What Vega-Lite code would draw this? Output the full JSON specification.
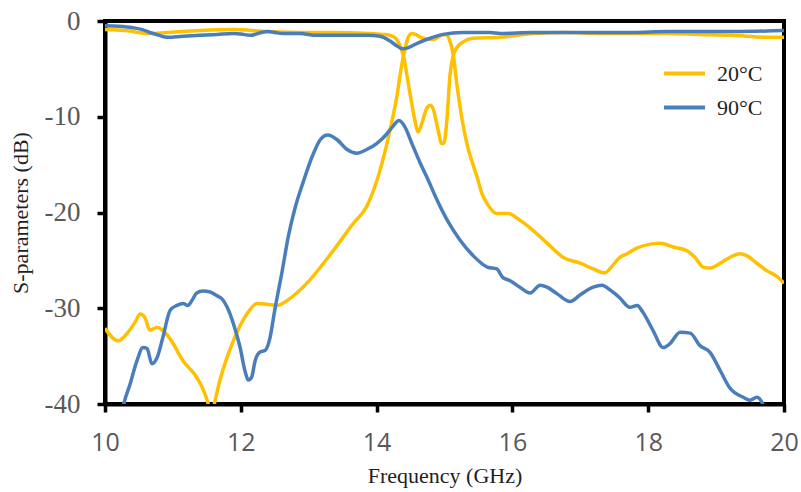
{
  "$schema": "https://vega.github.io/schema/vega-lite/v6.json",
  "width": 679,
  "height": 383,
  "autosize": {"type": "none"},
  "padding": {"left": 105, "top": 21, "right": 17, "bottom": 88},
  "background": "white",
  "config": {
    "view": {"stroke": "black", "strokeWidth": 4},
    "axis": {
      "domainColor": "black",
      "domainWidth": 4,
      "tickColor": "black",
      "tickWidth": 3.5,
      "tickSize": 8,
      "grid": false,
      "labelColor": "#595959",
      "titleColor": "#1f1f1f",
      "titleFont": "Liberation Serif",
      "titleFontSize": 22,
      "titleFontWeight": "normal"
    }
  },
  "datasets": {
    "y20": [
      {"f": 10.0, "db": -0.9, "s": "20°C", "c": "S11"},
      {"f": 10.3, "db": -1.0, "s": "20°C", "c": "S11"},
      {"f": 10.66, "db": -1.3, "s": "20°C", "c": "S11"},
      {"f": 10.91, "db": -1.2, "s": "20°C", "c": "S11"},
      {"f": 11.4, "db": -1.0, "s": "20°C", "c": "S11"},
      {"f": 11.89, "db": -0.9, "s": "20°C", "c": "S11"},
      {"f": 12.39, "db": -1.1, "s": "20°C", "c": "S11"},
      {"f": 12.87, "db": -1.2, "s": "20°C", "c": "S11"},
      {"f": 13.36, "db": -1.2, "s": "20°C", "c": "S11"},
      {"f": 13.86, "db": -1.3, "s": "20°C", "c": "S11"},
      {"f": 14.09, "db": -1.4, "s": "20°C", "c": "S11"},
      {"f": 14.2, "db": -1.5, "s": "20°C", "c": "S11"},
      {"f": 14.28, "db": -1.8, "s": "20°C", "c": "S11"},
      {"f": 14.34, "db": -2.5, "s": "20°C", "c": "S11"},
      {"f": 14.39, "db": -3.5, "s": "20°C", "c": "S11"},
      {"f": 14.49, "db": -7.5, "s": "20°C", "c": "S11"},
      {"f": 14.57, "db": -10.6, "s": "20°C", "c": "S11"},
      {"f": 14.61, "db": -11.6, "s": "20°C", "c": "S11"},
      {"f": 14.67, "db": -10.6, "s": "20°C", "c": "S11"},
      {"f": 14.74, "db": -9.1, "s": "20°C", "c": "S11"},
      {"f": 14.79, "db": -8.8, "s": "20°C", "c": "S11"},
      {"f": 14.83, "db": -9.1, "s": "20°C", "c": "S11"},
      {"f": 14.9, "db": -11.2, "s": "20°C", "c": "S11"},
      {"f": 14.96, "db": -12.8, "s": "20°C", "c": "S11"},
      {"f": 14.99, "db": -12.8, "s": "20°C", "c": "S11"},
      {"f": 15.04, "db": -9.9, "s": "20°C", "c": "S11"},
      {"f": 15.08, "db": -5.7, "s": "20°C", "c": "S11"},
      {"f": 15.13, "db": -3.6, "s": "20°C", "c": "S11"},
      {"f": 15.18, "db": -2.8, "s": "20°C", "c": "S11"},
      {"f": 15.27, "db": -2.2, "s": "20°C", "c": "S11"},
      {"f": 15.42, "db": -1.8, "s": "20°C", "c": "S11"},
      {"f": 15.82, "db": -1.7, "s": "20°C", "c": "S11"},
      {"f": 16.3, "db": -1.3, "s": "20°C", "c": "S11"},
      {"f": 16.8, "db": -1.2, "s": "20°C", "c": "S11"},
      {"f": 17.29, "db": -1.3, "s": "20°C", "c": "S11"},
      {"f": 17.78, "db": -1.3, "s": "20°C", "c": "S11"},
      {"f": 18.28, "db": -1.3, "s": "20°C", "c": "S11"},
      {"f": 18.76, "db": -1.4, "s": "20°C", "c": "S11"},
      {"f": 19.25, "db": -1.5, "s": "20°C", "c": "S11"},
      {"f": 19.75, "db": -1.7, "s": "20°C", "c": "S11"},
      {"f": 20.0, "db": -1.7, "s": "20°C", "c": "S11"},

      {"f": 10.0, "db": -32.1, "s": "20°C", "c": "S21"},
      {"f": 10.19, "db": -33.4, "s": "20°C", "c": "S21"},
      {"f": 10.34, "db": -32.5, "s": "20°C", "c": "S21"},
      {"f": 10.44, "db": -31.5, "s": "20°C", "c": "S21"},
      {"f": 10.52, "db": -30.6, "s": "20°C", "c": "S21"},
      {"f": 10.59, "db": -31.0, "s": "20°C", "c": "S21"},
      {"f": 10.66, "db": -32.3, "s": "20°C", "c": "S21"},
      {"f": 10.77, "db": -32.0, "s": "20°C", "c": "S21"},
      {"f": 10.85, "db": -32.3, "s": "20°C", "c": "S21"},
      {"f": 10.96, "db": -33.2, "s": "20°C", "c": "S21"},
      {"f": 11.15, "db": -35.5, "s": "20°C", "c": "S21"},
      {"f": 11.35, "db": -37.2, "s": "20°C", "c": "S21"},
      {"f": 11.47, "db": -38.9, "s": "20°C", "c": "S21"},
      {"f": 11.53, "db": -40.3, "s": "20°C", "c": "S21"},
      {"f": 11.56, "db": -41.5, "s": "20°C", "c": "S21"},
      {"f": 11.6, "db": -40.3, "s": "20°C", "c": "S21"},
      {"f": 11.69, "db": -37.6, "s": "20°C", "c": "S21"},
      {"f": 11.89, "db": -33.4, "s": "20°C", "c": "S21"},
      {"f": 12.09, "db": -30.6, "s": "20°C", "c": "S21"},
      {"f": 12.24, "db": -29.5, "s": "20°C", "c": "S21"},
      {"f": 12.4, "db": -29.6, "s": "20°C", "c": "S21"},
      {"f": 12.53, "db": -29.7, "s": "20°C", "c": "S21"},
      {"f": 12.72, "db": -29.0, "s": "20°C", "c": "S21"},
      {"f": 12.97, "db": -27.4, "s": "20°C", "c": "S21"},
      {"f": 13.36, "db": -24.0, "s": "20°C", "c": "S21"},
      {"f": 13.65, "db": -21.2, "s": "20°C", "c": "S21"},
      {"f": 13.86, "db": -19.3, "s": "20°C", "c": "S21"},
      {"f": 14.05, "db": -15.6, "s": "20°C", "c": "S21"},
      {"f": 14.2, "db": -11.3, "s": "20°C", "c": "S21"},
      {"f": 14.3, "db": -7.8, "s": "20°C", "c": "S21"},
      {"f": 14.37, "db": -4.6, "s": "20°C", "c": "S21"},
      {"f": 14.42, "db": -2.9, "s": "20°C", "c": "S21"},
      {"f": 14.46, "db": -1.8, "s": "20°C", "c": "S21"},
      {"f": 14.52, "db": -1.3, "s": "20°C", "c": "S21"},
      {"f": 14.57, "db": -1.4, "s": "20°C", "c": "S21"},
      {"f": 14.65, "db": -1.7, "s": "20°C", "c": "S21"},
      {"f": 14.75, "db": -1.9, "s": "20°C", "c": "S21"},
      {"f": 14.85, "db": -1.9, "s": "20°C", "c": "S21"},
      {"f": 14.95, "db": -1.5, "s": "20°C", "c": "S21"},
      {"f": 15.02, "db": -1.4, "s": "20°C", "c": "S21"},
      {"f": 15.07, "db": -1.9, "s": "20°C", "c": "S21"},
      {"f": 15.13, "db": -3.6, "s": "20°C", "c": "S21"},
      {"f": 15.18, "db": -6.5, "s": "20°C", "c": "S21"},
      {"f": 15.23, "db": -9.0, "s": "20°C", "c": "S21"},
      {"f": 15.33, "db": -12.8, "s": "20°C", "c": "S21"},
      {"f": 15.42, "db": -15.0, "s": "20°C", "c": "S21"},
      {"f": 15.48, "db": -16.3, "s": "20°C", "c": "S21"},
      {"f": 15.55, "db": -18.0, "s": "20°C", "c": "S21"},
      {"f": 15.63, "db": -19.1, "s": "20°C", "c": "S21"},
      {"f": 15.77, "db": -20.1, "s": "20°C", "c": "S21"},
      {"f": 15.94, "db": -20.1, "s": "20°C", "c": "S21"},
      {"f": 16.11, "db": -20.8, "s": "20°C", "c": "S21"},
      {"f": 16.26, "db": -21.6, "s": "20°C", "c": "S21"},
      {"f": 16.51, "db": -23.2, "s": "20°C", "c": "S21"},
      {"f": 16.75, "db": -24.7, "s": "20°C", "c": "S21"},
      {"f": 17.0, "db": -25.3, "s": "20°C", "c": "S21"},
      {"f": 17.19, "db": -25.9, "s": "20°C", "c": "S21"},
      {"f": 17.36, "db": -26.3, "s": "20°C", "c": "S21"},
      {"f": 17.48, "db": -25.5, "s": "20°C", "c": "S21"},
      {"f": 17.58, "db": -24.7, "s": "20°C", "c": "S21"},
      {"f": 17.69, "db": -24.3, "s": "20°C", "c": "S21"},
      {"f": 17.84, "db": -23.7, "s": "20°C", "c": "S21"},
      {"f": 18.03, "db": -23.3, "s": "20°C", "c": "S21"},
      {"f": 18.17, "db": -23.2, "s": "20°C", "c": "S21"},
      {"f": 18.37, "db": -23.6, "s": "20°C", "c": "S21"},
      {"f": 18.57, "db": -24.0, "s": "20°C", "c": "S21"},
      {"f": 18.69, "db": -24.7, "s": "20°C", "c": "S21"},
      {"f": 18.81, "db": -25.7, "s": "20°C", "c": "S21"},
      {"f": 18.91, "db": -25.8, "s": "20°C", "c": "S21"},
      {"f": 19.06, "db": -25.3, "s": "20°C", "c": "S21"},
      {"f": 19.2, "db": -24.7, "s": "20°C", "c": "S21"},
      {"f": 19.35, "db": -24.3, "s": "20°C", "c": "S21"},
      {"f": 19.45, "db": -24.5, "s": "20°C", "c": "S21"},
      {"f": 19.6, "db": -25.3, "s": "20°C", "c": "S21"},
      {"f": 19.75, "db": -26.1, "s": "20°C", "c": "S21"},
      {"f": 19.9, "db": -26.7, "s": "20°C", "c": "S21"},
      {"f": 20.0, "db": -27.4, "s": "20°C", "c": "S21"}
    ],
    "b90": [
      {"f": 10.0, "db": -0.5, "s": "90°C", "c": "S11"},
      {"f": 10.2, "db": -0.55, "s": "90°C", "c": "S11"},
      {"f": 10.41, "db": -0.7, "s": "90°C", "c": "S11"},
      {"f": 10.55, "db": -0.9, "s": "90°C", "c": "S11"},
      {"f": 10.66, "db": -1.2, "s": "90°C", "c": "S11"},
      {"f": 10.8, "db": -1.5, "s": "90°C", "c": "S11"},
      {"f": 10.91, "db": -1.7, "s": "90°C", "c": "S11"},
      {"f": 11.15, "db": -1.6, "s": "90°C", "c": "S11"},
      {"f": 11.4, "db": -1.5, "s": "90°C", "c": "S11"},
      {"f": 11.65, "db": -1.4, "s": "90°C", "c": "S11"},
      {"f": 11.89, "db": -1.3, "s": "90°C", "c": "S11"},
      {"f": 12.0, "db": -1.35, "s": "90°C", "c": "S11"},
      {"f": 12.14, "db": -1.5, "s": "90°C", "c": "S11"},
      {"f": 12.3, "db": -1.2, "s": "90°C", "c": "S11"},
      {"f": 12.39, "db": -1.1, "s": "90°C", "c": "S11"},
      {"f": 12.5, "db": -1.2, "s": "90°C", "c": "S11"},
      {"f": 12.62, "db": -1.3, "s": "90°C", "c": "S11"},
      {"f": 12.87, "db": -1.3, "s": "90°C", "c": "S11"},
      {"f": 13.12, "db": -1.5, "s": "90°C", "c": "S11"},
      {"f": 13.36, "db": -1.5, "s": "90°C", "c": "S11"},
      {"f": 13.86, "db": -1.5, "s": "90°C", "c": "S11"},
      {"f": 14.05, "db": -1.6, "s": "90°C", "c": "S11"},
      {"f": 14.2, "db": -2.1, "s": "90°C", "c": "S11"},
      {"f": 14.3, "db": -2.6, "s": "90°C", "c": "S11"},
      {"f": 14.38, "db": -2.9, "s": "90°C", "c": "S11"},
      {"f": 14.46, "db": -2.8, "s": "90°C", "c": "S11"},
      {"f": 14.55, "db": -2.5, "s": "90°C", "c": "S11"},
      {"f": 14.64, "db": -2.2, "s": "90°C", "c": "S11"},
      {"f": 14.79, "db": -1.8, "s": "90°C", "c": "S11"},
      {"f": 14.98, "db": -1.4, "s": "90°C", "c": "S11"},
      {"f": 15.27, "db": -1.2, "s": "90°C", "c": "S11"},
      {"f": 15.67, "db": -1.2, "s": "90°C", "c": "S11"},
      {"f": 15.82, "db": -1.3, "s": "90°C", "c": "S11"},
      {"f": 16.3, "db": -1.2, "s": "90°C", "c": "S11"},
      {"f": 16.8, "db": -1.2, "s": "90°C", "c": "S11"},
      {"f": 17.29, "db": -1.2, "s": "90°C", "c": "S11"},
      {"f": 17.78, "db": -1.2, "s": "90°C", "c": "S11"},
      {"f": 18.28, "db": -1.1, "s": "90°C", "c": "S11"},
      {"f": 18.76, "db": -1.1, "s": "90°C", "c": "S11"},
      {"f": 19.25, "db": -1.1, "s": "90°C", "c": "S11"},
      {"f": 20.0, "db": -1.0, "s": "90°C", "c": "S11"},

      {"f": 10.2, "db": -43.0, "s": "90°C", "c": "S21"},
      {"f": 10.27, "db": -40.2, "s": "90°C", "c": "S21"},
      {"f": 10.37, "db": -37.9, "s": "90°C", "c": "S21"},
      {"f": 10.47, "db": -35.5, "s": "90°C", "c": "S21"},
      {"f": 10.56, "db": -34.1, "s": "90°C", "c": "S21"},
      {"f": 10.62, "db": -34.2, "s": "90°C", "c": "S21"},
      {"f": 10.69, "db": -35.8, "s": "90°C", "c": "S21"},
      {"f": 10.77, "db": -35.1, "s": "90°C", "c": "S21"},
      {"f": 10.85, "db": -33.1, "s": "90°C", "c": "S21"},
      {"f": 10.96, "db": -30.2, "s": "90°C", "c": "S21"},
      {"f": 11.06, "db": -29.7, "s": "90°C", "c": "S21"},
      {"f": 11.15, "db": -29.5, "s": "90°C", "c": "S21"},
      {"f": 11.22, "db": -29.7, "s": "90°C", "c": "S21"},
      {"f": 11.28, "db": -29.2, "s": "90°C", "c": "S21"},
      {"f": 11.35, "db": -28.4, "s": "90°C", "c": "S21"},
      {"f": 11.44, "db": -28.2, "s": "90°C", "c": "S21"},
      {"f": 11.55, "db": -28.3, "s": "90°C", "c": "S21"},
      {"f": 11.65, "db": -28.7, "s": "90°C", "c": "S21"},
      {"f": 11.72, "db": -29.0, "s": "90°C", "c": "S21"},
      {"f": 11.8, "db": -29.9, "s": "90°C", "c": "S21"},
      {"f": 11.89, "db": -31.6, "s": "90°C", "c": "S21"},
      {"f": 11.99, "db": -34.1, "s": "90°C", "c": "S21"},
      {"f": 12.06, "db": -36.5, "s": "90°C", "c": "S21"},
      {"f": 12.11, "db": -37.5, "s": "90°C", "c": "S21"},
      {"f": 12.16, "db": -37.2, "s": "90°C", "c": "S21"},
      {"f": 12.21, "db": -35.5, "s": "90°C", "c": "S21"},
      {"f": 12.28, "db": -34.6, "s": "90°C", "c": "S21"},
      {"f": 12.36, "db": -34.4, "s": "90°C", "c": "S21"},
      {"f": 12.43, "db": -33.1, "s": "90°C", "c": "S21"},
      {"f": 12.5, "db": -30.2, "s": "90°C", "c": "S21"},
      {"f": 12.61, "db": -26.1, "s": "90°C", "c": "S21"},
      {"f": 12.7, "db": -22.5, "s": "90°C", "c": "S21"},
      {"f": 12.8, "db": -19.5, "s": "90°C", "c": "S21"},
      {"f": 12.92, "db": -16.8, "s": "90°C", "c": "S21"},
      {"f": 13.06, "db": -14.0, "s": "90°C", "c": "S21"},
      {"f": 13.17, "db": -12.4, "s": "90°C", "c": "S21"},
      {"f": 13.28, "db": -11.9, "s": "90°C", "c": "S21"},
      {"f": 13.42, "db": -12.4, "s": "90°C", "c": "S21"},
      {"f": 13.56, "db": -13.4, "s": "90°C", "c": "S21"},
      {"f": 13.71, "db": -13.8, "s": "90°C", "c": "S21"},
      {"f": 13.86, "db": -13.4, "s": "90°C", "c": "S21"},
      {"f": 14.0, "db": -12.8, "s": "90°C", "c": "S21"},
      {"f": 14.15, "db": -11.8, "s": "90°C", "c": "S21"},
      {"f": 14.24, "db": -11.0, "s": "90°C", "c": "S21"},
      {"f": 14.33, "db": -10.4, "s": "90°C", "c": "S21"},
      {"f": 14.42, "db": -11.1, "s": "90°C", "c": "S21"},
      {"f": 14.52, "db": -12.8, "s": "90°C", "c": "S21"},
      {"f": 14.64, "db": -14.8, "s": "90°C", "c": "S21"},
      {"f": 14.74, "db": -16.3, "s": "90°C", "c": "S21"},
      {"f": 14.89, "db": -18.7, "s": "90°C", "c": "S21"},
      {"f": 15.04, "db": -20.8, "s": "90°C", "c": "S21"},
      {"f": 15.23, "db": -22.9, "s": "90°C", "c": "S21"},
      {"f": 15.42, "db": -24.5, "s": "90°C", "c": "S21"},
      {"f": 15.63, "db": -25.7, "s": "90°C", "c": "S21"},
      {"f": 15.77, "db": -25.9, "s": "90°C", "c": "S21"},
      {"f": 15.86, "db": -26.8, "s": "90°C", "c": "S21"},
      {"f": 15.96, "db": -27.1, "s": "90°C", "c": "S21"},
      {"f": 16.11, "db": -27.8, "s": "90°C", "c": "S21"},
      {"f": 16.26, "db": -28.4, "s": "90°C", "c": "S21"},
      {"f": 16.41, "db": -27.6, "s": "90°C", "c": "S21"},
      {"f": 16.51, "db": -27.8, "s": "90°C", "c": "S21"},
      {"f": 16.66, "db": -28.5, "s": "90°C", "c": "S21"},
      {"f": 16.85, "db": -29.3, "s": "90°C", "c": "S21"},
      {"f": 17.0, "db": -28.6, "s": "90°C", "c": "S21"},
      {"f": 17.19, "db": -27.8, "s": "90°C", "c": "S21"},
      {"f": 17.32, "db": -27.6, "s": "90°C", "c": "S21"},
      {"f": 17.44, "db": -28.1, "s": "90°C", "c": "S21"},
      {"f": 17.58, "db": -28.9, "s": "90°C", "c": "S21"},
      {"f": 17.73, "db": -29.9, "s": "90°C", "c": "S21"},
      {"f": 17.84, "db": -29.7, "s": "90°C", "c": "S21"},
      {"f": 17.92, "db": -30.4, "s": "90°C", "c": "S21"},
      {"f": 18.07, "db": -32.3, "s": "90°C", "c": "S21"},
      {"f": 18.22, "db": -34.1, "s": "90°C", "c": "S21"},
      {"f": 18.32, "db": -33.7, "s": "90°C", "c": "S21"},
      {"f": 18.47, "db": -32.5, "s": "90°C", "c": "S21"},
      {"f": 18.62, "db": -32.6, "s": "90°C", "c": "S21"},
      {"f": 18.76, "db": -33.9, "s": "90°C", "c": "S21"},
      {"f": 18.91, "db": -34.6, "s": "90°C", "c": "S21"},
      {"f": 19.06, "db": -36.5, "s": "90°C", "c": "S21"},
      {"f": 19.2, "db": -38.3, "s": "90°C", "c": "S21"},
      {"f": 19.4, "db": -39.3, "s": "90°C", "c": "S21"},
      {"f": 19.5, "db": -39.6, "s": "90°C", "c": "S21"},
      {"f": 19.6, "db": -39.3, "s": "90°C", "c": "S21"},
      {"f": 19.68, "db": -39.9, "s": "90°C", "c": "S21"},
      {"f": 19.75, "db": -41.5, "s": "90°C", "c": "S21"}
    ]
  },
  "encoding": {
    "x": {
      "field": "f",
      "type": "quantitative",
      "scale": {"domain": [10, 20], "nice": false},
      "axis": {
        "title": "Frequency (GHz)",
        "values": [10, 12, 14, 16, 18, 20],
        "labelFont": "Open Sans",
        "labelFontSize": 25,
        "labelPadding": 18,
        "labelFlush": false,
        "titleY": 78,
        "titleBaseline": "alphabetic",
        "encoding": {"ticks": {"update": {"y": {"value": -8}}}}
      }
    },
    "y": {
      "field": "db",
      "type": "quantitative",
      "scale": {"domain": [-40, 0], "nice": false},
      "axis": {
        "title": "S-parameters (dB)",
        "values": [-40, -30, -20, -10, 0],
        "labelExpr": "'' + datum.value",
        "labelFont": "Liberation Serif",
        "labelFontSize": 27,
        "labelPadding": 17,
        "labelFlush": false,
        "titleX": -78,
        "titleBaseline": "alphabetic",
        "encoding": {"ticks": {"update": {"x": {"value": 8}}}}
      }
    },
    "color": {
      "field": "s",
      "type": "nominal",
      "scale": {"domain": ["20°C", "90°C"], "range": ["#FFC000", "#4A7EBB"]},
      "legend": {
        "title": null,
        "orient": "none",
        "legendX": 557,
        "legendY": 30,
        "padding": 0,
        "symbolType": "stroke",
        "symbolSize": 1681,
        "symbolStrokeWidth": 4,
        "rowPadding": -17,
        "labelOffset": 10,
        "labelFont": "Liberation Serif",
        "labelFontSize": 22,
        "labelColor": "#1f1f1f"
      }
    },
    "detail": {"field": "c", "type": "nominal"}
  },
  "layer": [
    {"data": {"name": "y20"}, "mark": {"type": "line", "strokeWidth": 3.5, "clip": true, "interpolate": "monotone"}},
    {"data": {"name": "b90"}, "mark": {"type": "line", "strokeWidth": 3.5, "clip": true, "interpolate": "monotone"}}
  ]
}
